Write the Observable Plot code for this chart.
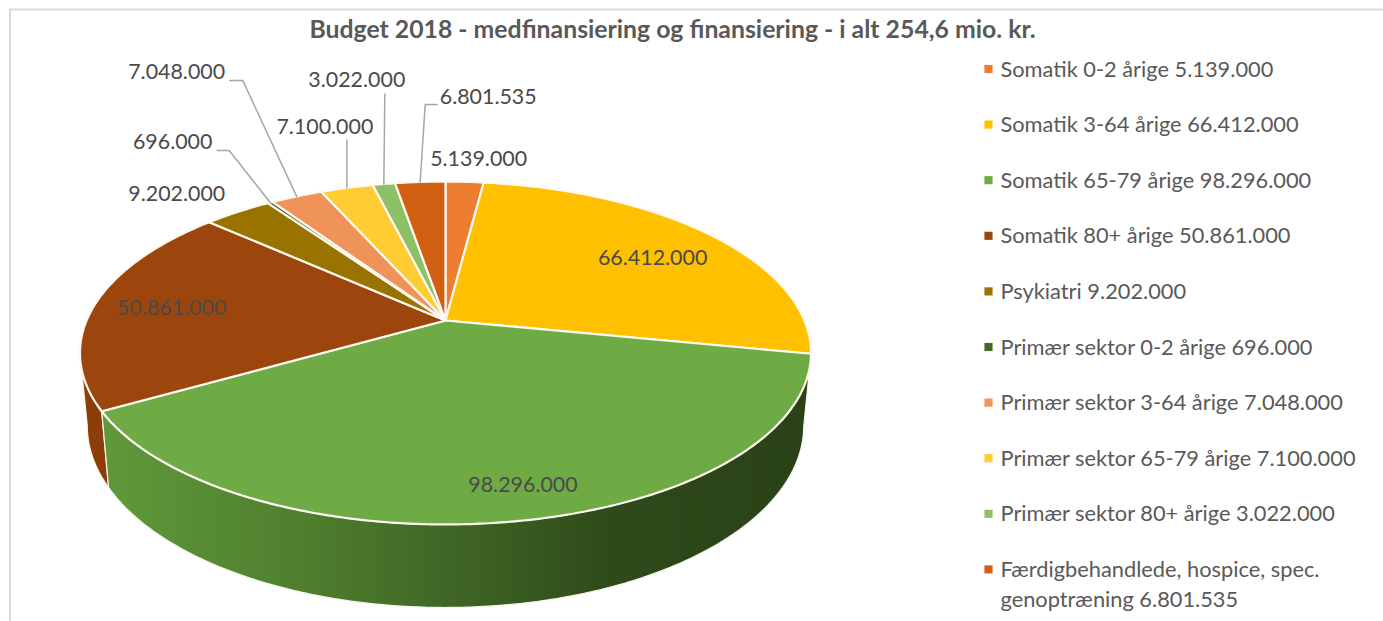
<!DOCTYPE html>
<html>
<head>
<meta charset="utf-8">
<style>html,body{margin:0;padding:0;background:#fff}svg{display:block}</style>
<script src="https://cdn.jsdelivr.net/npm/d3@7"></script>
<script src="https://cdn.jsdelivr.net/npm/@observablehq/plot@0.6"></script>
</head>
<body>
<div id="chart"></div>
<script>
// ---- data ----
const titleText = "Budget 2018 - medfinansiering og finansiering - i alt 254,6 mio. kr.";
const categories = [
  "Somatik 0-2 årige",
  "Somatik 3-64 årige",
  "Somatik 65-79 årige",
  "Somatik 80+ årige",
  "Psykiatri",
  "Primær sektor 0-2 årige",
  "Primær sektor 3-64 årige",
  "Primær sektor 65-79 årige",
  "Primær sektor 80+ årige",
  "Færdigbehandlede, hospice, spec.\ngenoptræning"
];
const values = [5139000, 66412000, 98296000, 50861000, 9202000, 696000, 7048000, 7100000, 3022000, 6801535];
const colors = ["#ED7D31", "#FFC000", "#6EAB45", "#9C460D", "#997300", "#43682B", "#EF9359", "#FFCD33", "#8CC168", "#D26012"];

// ---- layout of the perspective pie ----
const W = 1383, H = 621;
const pie = {cx: 445, cy: 320, rx: 358.9, ry: 165.3, k: 0.1895, floorCy: 391, floorX: 0.98, floorY: 1.059};
// value label offsets from the slice's rim point, and leader bends
const labelOffsets = [[14, -23], [-55, 25], [6, -36], [76, 5], [-61, -18], [-97.5, -60], [-120, -124], [-22, -61], [-27, -103.5], [68, -84.5]];
const leaderBends = [null, null, null, null, null,
  [[-41, -52], [-53, -52]],
  [[-54, -116], [-67, -116]],
  [[0, -48]],
  [[1, -90]],
  [[5, -77.5], [17, -77.5]]];
const legend = {squareX: 988, textX: 1000, y0: 68.5, step: 55.6, line: 30, textDy: 0.6};

// ---- derived from the values ----
const fmt = d3.formatLocale({decimal: ",", thousands: ".", grouping: [3], currency: ["", ""]}).format(",d");
const total = d3.sum(values);
const cum = d3.cumsum(values);
const TAU = 2 * Math.PI;
const slices = categories.map((name, i) => ({
  name, i, value: values[i],
  a0: (cum[i] - values[i]) / total * TAU,
  a1: cum[i] / total * TAU
}));
function rimPoint(theta) {
  const u = Math.sin(theta), v = Math.cos(theta), w = 1 + pie.k * v;
  return [pie.cx + pie.rx * u / w, pie.cy - pie.ry * v / w];
}
function floorPoint(theta) {
  const [x, y] = rimPoint(theta);
  return [pie.cx + pie.floorX * (x - pie.cx), pie.floorCy + pie.floorY * (y - pie.cy)];
}
function arc(a, b, f) {
  const n = Math.max(2, Math.ceil(Math.abs(b - a) / 0.01));
  return d3.range(n + 1).map(j => f(a + (b - a) * j / n));
}
const faceRows = slices.flatMap(s =>
  [[pie.cx, pie.cy], ...arc(s.a0, s.a1, rimPoint), [pie.cx, pie.cy]].map(([x, y]) => ({name: s.name, x, y})));
// only the front half of the rim shows a wall: it runs between the two silhouette tangents
const frontA = Math.acos(-pie.k), frontB = TAU - frontA;
const wallRows = slices.flatMap(s => {
  const a = Math.max(s.a0, frontA), b = Math.min(s.a1, frontB);
  if (b <= a) return [];
  const ring = [...arc(a, b, rimPoint), ...arc(b, a, floorPoint)];
  ring.push(ring[0]);
  return ring.map(([x, y]) => ({name: s.name, i: s.i, x, y}));
});
const greenName = categories[2];
const labels = slices.map(s => {
  const [rimX, rimY] = rimPoint((s.a0 + s.a1) / 2);
  const [dx, dy] = labelOffsets[s.i];
  return {x: rimX + dx, y: rimY + dy, text: fmt(s.value)};
});
const leaderRows = slices.flatMap(s => {
  const bends = leaderBends[s.i];
  if (!bends) return [];
  const [rimX, rimY] = rimPoint((s.a0 + s.a1) / 2);
  return [[0, 0], ...bends].map(([dx, dy]) => ({name: s.name, x: rimX + dx, y: rimY + dy}));
});
const legendSquares = slices.map(s => ({name: s.name, x: legend.squareX, y: legend.y0 + s.i * legend.step}));
const legendLines = slices.flatMap(s =>
  `${s.name} ${fmt(s.value)}`.split("\n").map((text, j) => ({
    text, x: legend.textX, y: legend.y0 + legend.textDy + s.i * legend.step + j * legend.line
  })));

const wallGradient = () => d3.create("svg:defs").html(`
  <linearGradient id="wallGreen" gradientUnits="userSpaceOnUse" x1="100" x2="811" y1="0" y2="0">
    <stop offset="0" stop-color="#60993a"/>
    <stop offset="0.27" stop-color="#50802f"/>
    <stop offset="0.5" stop-color="#3f6525"/>
    <stop offset="0.72" stop-color="#2e4a1a"/>
    <stop offset="1" stop-color="#2a4117"/>
  </linearGradient>`).node();

const chart = Plot.plot({
  width: W, height: H, margin: 0,
  x: {domain: [0, W], range: [0, W], axis: null},
  y: {domain: [0, H], range: [0, H], axis: null},
  color: {domain: categories, range: colors},
  style: {fontFamily: "Lato, Carlito, sans-serif", background: "#fff", overflow: "visible"},
  marks: [
    wallGradient,
    // chart border
    Plot.ruleX([9.5], {y1: 9, y2: H, stroke: "#d9d9d9", strokeWidth: 2}),
    Plot.ruleY([9], {x1: 9, x2: W, stroke: "#d9d9d9", strokeWidth: 2}),
    // walls
    Plot.line(wallRows.filter(d => d.name !== greenName), {x: "x", y: "y", z: "name", fill: "#8c3e0a", stroke: "#fff3e0", strokeWidth: 1.2}),
    Plot.line(wallRows.filter(d => d.name === greenName), {x: "x", y: "y", z: "name", fill: "url(#wallGreen)", stroke: "#f4f7ee", strokeWidth: 1.2}),
    // top faces
    Plot.line(faceRows, {x: "x", y: "y", z: "name", fill: "name", stroke: "#fdf8f0", strokeWidth: 2.2, strokeLinejoin: "round"}),
    // leaders
    Plot.line(leaderRows, {x: "x", y: "y", z: "name", stroke: "#a6a6a6", strokeWidth: 1.5}),
    // value labels
    Plot.text(labels, {x: "x", y: "y", text: "text", fill: "#4a4a4a", fontSize: 21.4, textAnchor: "middle"}),
    // title
    Plot.text([titleText], {x: () => 672, y: () => 30, text: d => d, fill: "#595959", fontSize: 24.8, fontWeight: 700, textAnchor: "middle"}),
    // legend
    Plot.dot(legendSquares, {x: "x", y: "y", symbol: "square", r: 4.6, fill: "name", stroke: null}),
    Plot.text(legendLines, {x: "x", y: "y", text: "text", fill: "#595959", fontSize: 21.8, textAnchor: "start"})
  ]
});
document.getElementById("chart").append(chart);
</script>
</body>
</html>
